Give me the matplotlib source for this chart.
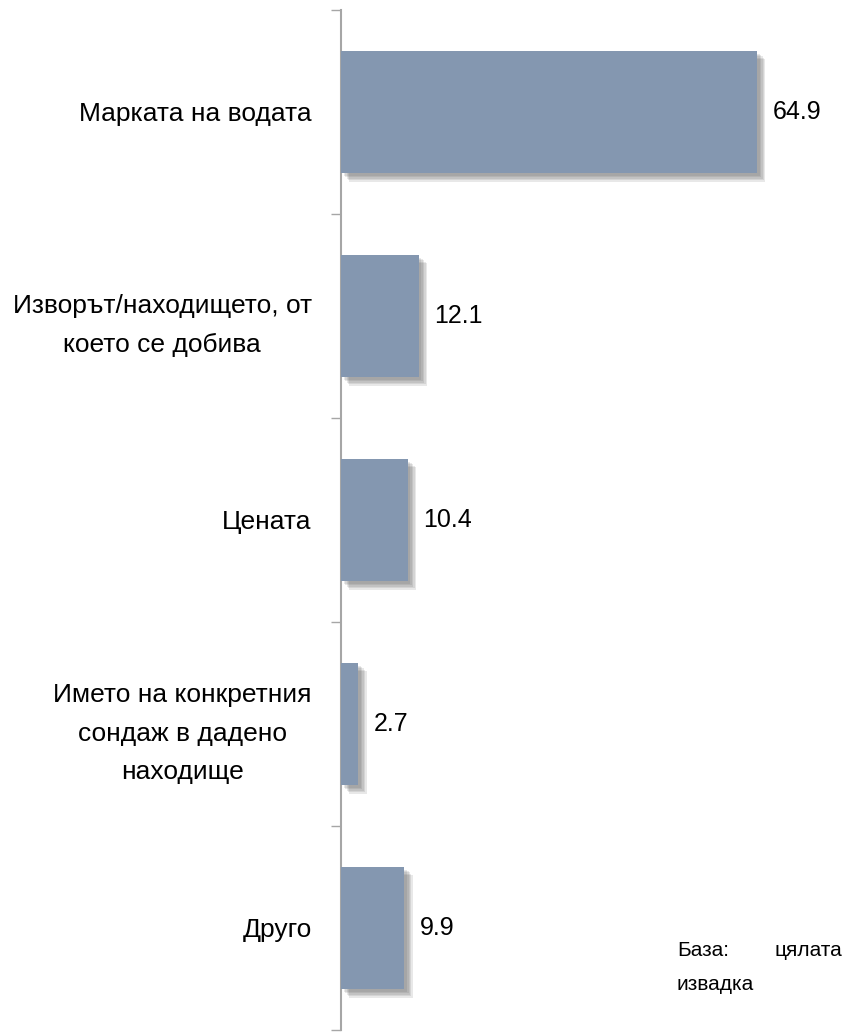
import matplotlib.pyplot as plt
import matplotlib.patheffects as pe
import numpy as np

plt.rcParams['font.family'] = ['Liberation Sans', 'DejaVu Sans']

categories = ['Марката на водата',
              'Изворът/находището, от\nкоето се добива',
              'Цената',
              'Името на конкретния\nсондаж в дадено\nнаходище',
              'Друго']
values = [64.9, 12.1, 10.4, 2.7, 9.9]
value_labels = ['64.9', '12.1', '10.4', '2.7', '9.9']

bar_color = '#8497B0'
axis_color = '#A6A6A6'

fig = plt.figure(figsize=(8.45, 10.35), dpi=100)
ax = fig.add_axes([341 / 845, 5 / 1035, 504 / 845, 1020 / 1035])

y = np.arange(len(categories))
bars = ax.barh(y, values, height=0.6, color=bar_color, zorder=3)
# blurred drop shadow, built from a few offset layers
shadow = [pe.SimplePatchShadow(offset=(d, -d), shadow_rgbFace='#505050', alpha=0.13)
          for d in (6, 5, 4, 3, 2)]
for b in bars:
    b.set_path_effects(shadow + [pe.Normal()])

ax.set_ylim(len(categories) - 0.5, -0.5)
ax.set_xlim(0, 78.6)

for yi, v, lab in zip(y, values, value_labels):
    ax.text(v + 2.4, yi, lab, va='center', ha='left', fontsize=18)

ax.set_yticks(y)
ax.set_yticklabels(categories, fontsize=19, linespacing=1.75)
for t in ax.get_yticklabels():
    t.set_multialignment('center')
ax.tick_params(axis='y', which='major', length=0, pad=21)
ax.set_yticks(np.arange(-0.5, len(categories)), minor=True)
ax.tick_params(axis='y', which='minor', length=7, width=1.0, color=axis_color)
ax.set_xticks([])

for s in ['top', 'right', 'bottom']:
    ax.spines[s].set_visible(False)
ax.spines['left'].set_color(axis_color)
ax.spines['left'].set_linewidth(1.5)

fig.text(677 / 845, 1 - 950 / 1035, 'База:', fontsize=15, va='center', ha='left')
fig.text(842 / 845, 1 - 950 / 1035, 'цялата', fontsize=15, va='center', ha='right')
fig.text(677 / 845, 1 - 985 / 1035, 'извадка', fontsize=15, va='center', ha='left')

fig.savefig('out.png', dpi=100)
